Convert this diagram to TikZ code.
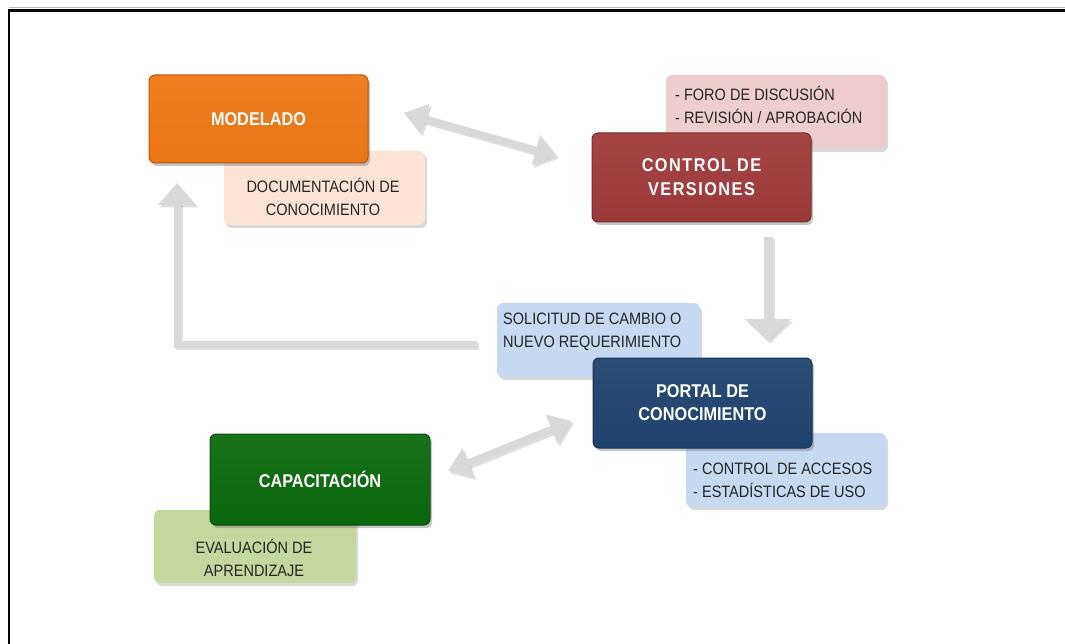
\documentclass[tikz,border=0pt]{standalone}
\usepackage{fontspec}
\setmainfont{Liberation Sans}
\newfontfamily\narrowfont[FakeStretch=0.88]{Liberation Sans}
\usetikzlibrary{shadows,arrows.meta}
\definecolor{orangeM}{HTML}{F07814}
\definecolor{peach}{HTML}{FBE4D5}
\definecolor{redM}{HTML}{9F3B3B}
\definecolor{pinkS}{HTML}{EDCDCD}
\definecolor{blueM}{HTML}{1F4471}
\definecolor{blueS}{HTML}{C6D9F1}
\definecolor{greenM}{HTML}{0B6A0B}
\definecolor{greenS}{HTML}{C4D79C}
\definecolor{arrowgray}{HTML}{D9D9D9}
\definecolor{txtgray}{HTML}{262626}
\begin{document}
\begin{tikzpicture}[x=1pt,y=-1pt,
  mainbox/.style={rounded corners=6pt, draw=#1!75!black, line width=1pt,
    top color=#1!95!white, middle color=#1, bottom color=#1!97!black,
    text=white, font=\narrowfont\bfseries\fontsize{18.5}{23}\selectfont, align=center,
    minimum width=219pt, minimum height=89pt, inner sep=0pt,
    drop shadow={shadow xshift=2pt,shadow yshift=-3pt,opacity=0.45}},
  subbox/.style={rounded corners=6pt, fill=#1, draw=none,
    minimum width=201pt, minimum height=74pt, inner sep=0pt,
    drop shadow={shadow xshift=2pt,shadow yshift=-3pt,opacity=0.3}},
  subtext/.style={text=txtgray, font=\narrowfont\fontsize{16.5}{23}\selectfont, inner sep=0pt},
  conn/.style={draw=arrowgray, line width=7pt, line join=miter},
  connshadow/.style={draw=black, opacity=0.13, line width=7pt, line join=miter,
    transform canvas={xshift=2pt,yshift=-2.5pt}},
  dbl/.style={arrows={Triangle[width=30pt,length=22pt]-Triangle[width=30pt,length=22pt]}},
  sgl/.style={arrows={-Triangle[width=#1,length=22pt]}}
]
\useasboundingbox (0,0) rectangle (1065,644);
% frame
\draw[gray!55, line width=0.8pt] (9,7.5) -- (1065,7.5);
\draw[black, line width=2.4pt] (9,644) -- (9,10.5) -- (1065,10.5);

% arrow end coordinates
\coordinate (a1) at (404,113);
\coordinate (a2) at (557,156);
\coordinate (b1) at (768,237);
\coordinate (b2) at (768,341);
\coordinate (c1) at (448,471);
\coordinate (c2) at (572,421);
\coordinate (d1) at (477,344);
\coordinate (d2) at (177,183);

% arrows (shadow first)
\draw[connshadow, dbl] (a1) -- (a2);
\draw[conn, dbl] (a1) -- (a2);
\draw[connshadow, line width=9pt, sgl=45pt] (b1) -- (b2);
\draw[conn, line width=9pt, sgl=45pt] (b1) -- (b2);
\draw[connshadow, dbl] (c1) -- (c2);
\draw[conn, dbl] (c1) -- (c2);
\draw[connshadow, sgl=37pt] (d1) -| (d2);
\draw[conn, sgl=37pt] (d1) -| (d2);

% secondary boxes
\node[subbox=peach] (doc) at (324.5,188) {};
\node[subtext, align=center] (doctxt) at (323,197) {DOCUMENTACIÓN DE\\CONOCIMIENTO};

\node[subbox=pinkS, minimum width=220pt] (foro) at (776,112) {};
\node[subtext, align=left, anchor=west] (forotxt) at (675,105) {- FORO DE DISCUSIÓN\\- REVISIÓN / APROBACIÓN};

\node[subbox=blueS, minimum width=203pt] (sol) at (598.5,340) {};
\node[subtext, align=left, anchor=west] (soltxt) at (503,331.5) {SOLICITUD DE CAMBIO O\\NUEVO REQUERIMIENTO};

\node[subbox=blueS, minimum width=200pt] (acc) at (786,470) {};
\node[subtext, align=left, anchor=west] (acctxt) at (693,480) {- CONTROL DE ACCESOS\\- ESTADÍSTICAS DE USO};

\node[subbox=greenS, minimum width=202pt, minimum height=73pt] (eval) at (255,546.5) {};
\node[subtext, align=center] (evaltxt) at (254,557.5) {EVALUACIÓN DE\\APRENDIZAJE};

% main boxes
\node[mainbox=orangeM, minimum height=88pt] (mod) at (258.5,119) {MODELADO};
\node[mainbox=redM, font=\narrowfont\bfseries\fontsize{18.5}{24}\selectfont\addfontfeature{LetterSpace=8}] (ctl) at (701.5,177.5) {CONTROL DE\\VERSIONES};
\node[mainbox=blueM, minimum height=90pt] (por) at (702.5,403) {PORTAL DE\\CONOCIMIENTO};
\node[mainbox=greenM, minimum width=220pt, minimum height=91pt] (cap) at (320,479.5) {CAPACITACIÓN};
\end{tikzpicture}
\end{document}
